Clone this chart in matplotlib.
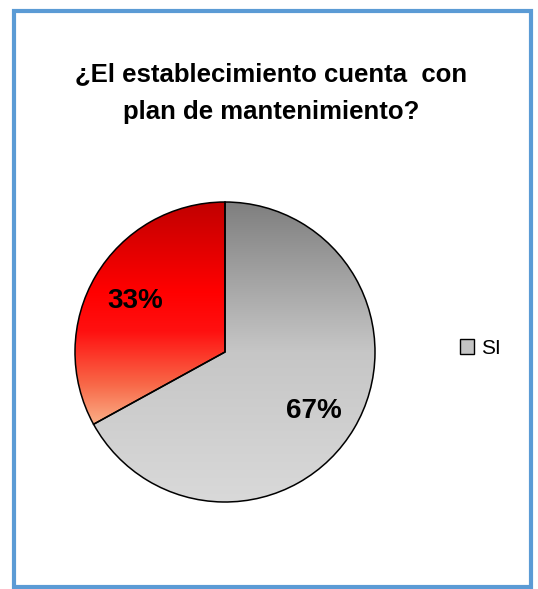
import matplotlib.pyplot as plt
import numpy as np
from matplotlib.colors import LinearSegmentedColormap
from matplotlib.patches import Patch, Rectangle

labels = ["SI", "NO"]
values = [67, 33]
pct_text = ["67%", "33%"]
legend_labels = ["SI"]
title = "¿El establecimiento cuenta  con\nplan de mantenimiento?"

W, H = 538, 589
fig = plt.figure(figsize=(W / 100, H / 100), dpi=100)
fig.patch.set_facecolor("white")

# blue frame round the chart
fig.patches.append(Rectangle((14 / W, 2 / H), 517 / W, 576 / H,
                             transform=fig.transFigure, fill=False,
                             edgecolor="#5B9BD5", linewidth=3))

fig.text(271 / W, 1 - 93 / H, title, ha="center", va="center",
         fontsize=18.5, fontweight="bold", family="Liberation Sans",
         linespacing=1.75)

cx, cy, r = 225, 352, 153
ax = fig.add_axes([(cx - r) / W, (H - cy - r) / H, 2 * r / W, 2 * r / H])
wedges, _ = ax.pie(values, startangle=90, counterclock=False, radius=1,
                   colors=["#c8c8c8", "#ff0000"],
                   wedgeprops=dict(edgecolor="black", linewidth=1.1))
ax.set_aspect("equal")
ax.axis("off")

gray = LinearSegmentedColormap.from_list(
    "g", [(0, "#d9d9d9"), (0.5, "#c6c6c6"), (1, "#7f7f7f")])
red = LinearSegmentedColormap.from_list(
    "r", [(0, "#fbb088"), (0.18, "#f86848"), (0.42, "#ff1010"),
          (0.6, "#ff0000"), (1, "#c00000")])

grad = np.linspace(0, 1, 256).reshape(-1, 1)
for w, cmap, ext in [(wedges[0], gray, (-1, 1, -1, 1)),
                     (wedges[1], red, (-1, 1, -0.49, 1))]:
    im = ax.imshow(grad, cmap=cmap, origin="lower", aspect="auto",
                   extent=ext, zorder=w.get_zorder() + 0.1)
    im.set_clip_path(w)
    w.set_zorder(w.get_zorder() + 0.2)
    w.set_facecolor("none")

ax.set_xlim(-1.02, 1.02)
ax.set_ylim(-1.02, 1.02)

ax.text((316 - cx) / r, (cy - 412) / r, pct_text[0], ha="center",
        va="center", fontsize=20, fontweight="bold",
        family="Liberation Sans", zorder=5)
ax.text((133 - cx) / r, (cy - 300) / r, pct_text[1], ha="center",
        va="center", fontsize=20, fontweight="bold",
        family="Liberation Sans", zorder=5)

handles = [Patch(facecolor="#c4c4c4", edgecolor="black", linewidth=1)]
fig.legend(handles, legend_labels, loc="center left",
           bbox_to_anchor=(445 / W, 1 - 348 / H), frameon=False,
           prop={"family": "Liberation Sans", "size": 15},
           handlelength=0.7, handleheight=0.7, handletextpad=0.35,
           borderpad=0.2)

fig.savefig("out.png", dpi=100)
